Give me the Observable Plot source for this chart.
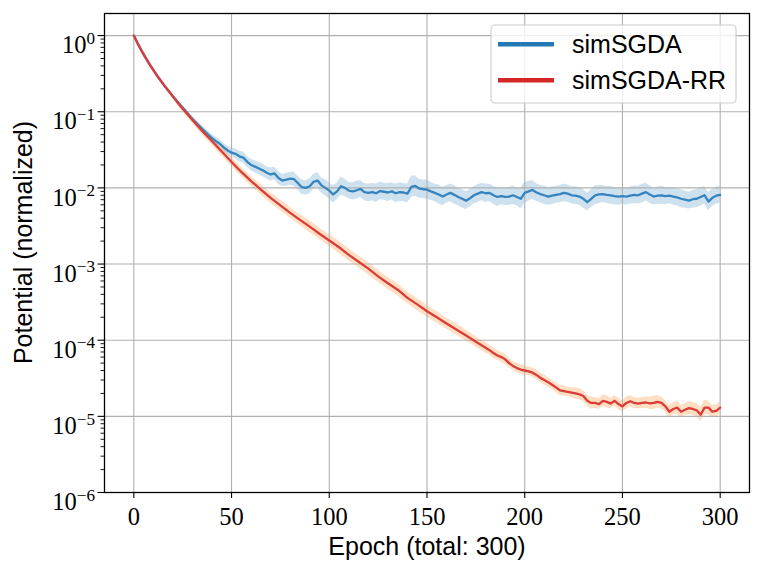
<!DOCTYPE html>
<html>
<head>
<meta charset="utf-8">
<script src="https://cdn.jsdelivr.net/npm/d3@7"></script>
<script src="https://cdn.jsdelivr.net/npm/@observablehq/plot@0.6"></script>
<style>
  html, body { margin: 0; padding: 0; background: #fff; }
  #chart { position: relative; width: 762px; height: 573px; }
</style>
</head>
<body>
<div id="chart"></div>
<script>
// ---- data ----
const seriesNames = ["simSGDA", "simSGDA-RR"];
const xTicks = [0, 50, 100, 150, 200, 250, 300];
const yTicks = [1e-6, 1e-5, 1e-4, 1e-3, 1e-2, 1e-1, 1e0];
const yTickExponents = ["−6", "−5", "−4", "−3", "−2", "−1", "0"];

// simSGDA: epochs 0..300 every 2
const blueEpoch = d3.range(0, 301, 2);
const blueValue = [
  1.0, 0.785, 0.631, 0.513, 0.422, 0.351, 0.295, 0.251, 0.214, 0.185,
  0.160, 0.139, 0.121, 0.106, 0.092, 0.080, 0.071, 0.063, 0.056, 0.050,
  0.045, 0.041, 0.038, 0.034, 0.031, 0.029, 0.028, 0.026, 0.025, 0.022,
  0.020, 0.019, 0.018, 0.017, 0.0158, 0.0150, 0.0155, 0.0135, 0.0125, 0.0128,
  0.0132, 0.0130, 0.0115, 0.0102, 0.0100, 0.0105, 0.0120, 0.0125, 0.0108, 0.0100,
  0.0092, 0.0082, 0.0090, 0.0105, 0.0100, 0.0092, 0.0090, 0.0093, 0.0097, 0.0088,
  0.0086, 0.0088, 0.0085, 0.0091, 0.0089, 0.0087, 0.0090, 0.0085, 0.0088, 0.0087,
  0.0084, 0.0103, 0.0106, 0.0098, 0.0096, 0.0095, 0.0090, 0.0086, 0.0082, 0.0077,
  0.0082, 0.0086, 0.0081, 0.0076, 0.0072, 0.0068, 0.0073, 0.0080, 0.0084, 0.0088,
  0.0085, 0.0086, 0.0080, 0.0076, 0.0078, 0.0076, 0.0077, 0.0080, 0.0076, 0.0072,
  0.0086, 0.0090, 0.0094, 0.0087, 0.0083, 0.0080, 0.0077, 0.0079, 0.0081, 0.0083,
  0.0086, 0.0084, 0.0080, 0.0079, 0.0077, 0.0072, 0.0065, 0.0072, 0.0080, 0.0082,
  0.0083, 0.0081, 0.0080, 0.0078, 0.0077, 0.0078, 0.0077, 0.0079, 0.0081, 0.0080,
  0.0084, 0.0088, 0.0082, 0.0077, 0.0079, 0.0080, 0.0078, 0.0079, 0.0077, 0.0075,
  0.0072, 0.0070, 0.0068, 0.0071, 0.0072, 0.0076, 0.0080, 0.0066, 0.0074, 0.0079,
  0.0081
];
// multiplicative half-width of the shaded band
const blueSpread = [
  1.0, 1.0, 1.01, 1.01, 1.01, 1.02, 1.02, 1.02, 1.03, 1.03,
  1.04, 1.04, 1.05, 1.06, 1.07, 1.08, 1.09, 1.10, 1.11, 1.12,
  1.12, 1.13, 1.13, 1.14, 1.14, 1.15, 1.16, 1.17, 1.18, 1.18,
  1.19, 1.2, 1.2, 1.21, 1.2, 1.22, 1.21, 1.22, 1.2, 1.22,
  1.22, 1.24, 1.23, 1.25, 1.24, 1.26, 1.25, 1.27, 1.26, 1.28,
  1.28, 1.3, 1.29, 1.32, 1.3, 1.28, 1.3, 1.31, 1.29, 1.3,
  1.31, 1.3, 1.32, 1.3, 1.29, 1.31, 1.3, 1.32, 1.33, 1.31,
  1.33, 1.38, 1.36, 1.33, 1.32, 1.34, 1.31, 1.3, 1.33, 1.32,
  1.3, 1.31, 1.33, 1.3, 1.32, 1.31, 1.3, 1.29, 1.31, 1.3,
  1.32, 1.3, 1.31, 1.33, 1.3, 1.29, 1.31, 1.32, 1.3, 1.36,
  1.38, 1.35, 1.33, 1.31, 1.3, 1.32, 1.3, 1.31, 1.29, 1.3,
  1.31, 1.3, 1.29, 1.31, 1.3, 1.32, 1.31, 1.3, 1.33, 1.31,
  1.3, 1.29, 1.31, 1.3, 1.3, 1.28, 1.3, 1.29, 1.31, 1.3,
  1.33, 1.31, 1.3, 1.29, 1.3, 1.31, 1.3, 1.28, 1.29, 1.3,
  1.31, 1.3, 1.29, 1.3, 1.31, 1.32, 1.3, 1.31, 1.3, 1.29,
  1.3
];

// simSGDA-RR
const redEpoch = [
  0, 2, 4, 6, 8, 10, 12, 14, 16, 18, 20, 22, 24, 26, 28, 30,
  35, 40, 45, 50, 55, 60, 65, 70, 75, 80, 85, 90, 95, 100,
  105, 110, 115, 120, 125, 130, 135, 140, 145, 150, 155, 160, 165, 170, 175, 180,
  182, 184, 186, 188, 190, 192, 194, 196, 198, 200,
  202, 204, 206, 208, 210, 212, 214, 216, 218, 220,
  222, 224, 226, 228, 230, 232, 234, 236, 238, 240,
  242, 244, 246, 248, 250, 252, 254, 256, 258, 260,
  262, 264, 266, 268, 270, 272, 274, 276, 278, 280,
  282, 284, 286, 288, 290, 292, 294, 296, 298, 300
];
const redValue = [
  1.0, 0.785, 0.631, 0.513, 0.422, 0.351, 0.295, 0.251, 0.214, 0.184, 0.158, 0.136, 0.117, 0.102, 0.089, 0.078,
  0.056, 0.041, 0.030, 0.0219, 0.0162, 0.0123, 0.0095, 0.0074, 0.0059, 0.0047, 0.0038, 0.0031, 0.0025, 0.00204,
  0.00166, 0.00132, 0.00107, 0.00087, 0.00069, 0.00056, 0.00046, 0.00036, 0.000295, 0.00024, 0.0002, 0.000166, 0.000138, 0.000115, 0.0000955, 0.0000794,
  7.4e-5, 6.8e-5, 6.3e-5, 6.0e-5, 5.6e-5, 5.0e-5, 4.6e-5, 4.3e-5, 4.1e-5, 4.0e-5,
  3.9e-5, 3.75e-5, 3.5e-5, 3.2e-5, 3.0e-5, 2.8e-5, 2.6e-5, 2.4e-5, 2.2e-5, 2.15e-5,
  2.1e-5, 2.05e-5, 2.0e-5, 1.95e-5, 1.85e-5, 1.6e-5, 1.5e-5, 1.5e-5, 1.45e-5, 1.6e-5,
  1.55e-5, 1.47e-5, 1.6e-5, 1.45e-5, 1.35e-5, 1.5e-5, 1.58e-5, 1.5e-5, 1.47e-5, 1.5e-5,
  1.52e-5, 1.48e-5, 1.5e-5, 1.55e-5, 1.5e-5, 1.35e-5, 1.15e-5, 1.25e-5, 1.3e-5, 1.15e-5,
  1.22e-5, 1.28e-5, 1.25e-5, 1.2e-5, 1.05e-5, 1.3e-5, 1.3e-5, 1.15e-5, 1.18e-5, 1.3e-5
];
const redSpread = [
  1.0, 1.0, 1.01, 1.01, 1.02, 1.02, 1.03, 1.04, 1.05, 1.06, 1.07, 1.08, 1.09, 1.1, 1.1, 1.11,
  1.12, 1.13, 1.14, 1.15, 1.15, 1.16, 1.17, 1.17, 1.18, 1.18, 1.18, 1.19, 1.19, 1.19,
  1.2, 1.2, 1.2, 1.2, 1.19, 1.2, 1.2, 1.19, 1.2, 1.2, 1.19, 1.18, 1.19, 1.18, 1.17, 1.18,
  1.16, 1.17, 1.15, 1.16, 1.17, 1.15, 1.14, 1.15, 1.16, 1.15,
  1.14, 1.15, 1.16, 1.15, 1.17, 1.16, 1.15, 1.16, 1.17, 1.16,
  1.15, 1.16, 1.18, 1.19, 1.18, 1.17, 1.2, 1.18, 1.17, 1.19,
  1.2, 1.18, 1.17, 1.19, 1.18, 1.2, 1.19, 1.18, 1.17, 1.18,
  1.19, 1.2, 1.22, 1.21, 1.2, 1.19, 1.21, 1.2, 1.22, 1.21,
  1.2, 1.22, 1.21, 1.23, 1.24, 1.25, 1.22, 1.21, 1.2, 1.2
];

const colors = {
  blueLine: "#3584bf", blueBand: "#1f77b4",
  redLine: "#dc3c38", redBand: "#ff7f0e",
  blueLegend: "#2378b5", redLegend: "#d62728"
};

// ---- build tables ----
const blue = blueEpoch.map((e, i) => ({epoch: e, v: blueValue[i], lo: blueValue[i] / blueSpread[i], hi: blueValue[i] * blueSpread[i]}));
const red = redEpoch.map((e, i) => ({epoch: e, v: redValue[i], lo: redValue[i] / redSpread[i], hi: redValue[i] * redSpread[i]}));

const minorTicks = [];
for (let k = -6; k <= 0; k++) for (let m = 2; m <= 9; m++) {
  const t = m * Math.pow(10, k);
  if (t < 1.95) minorTicks.push(t);
}

const serif = "'Liberation Serif', 'DejaVu Serif', serif";
const sans = "'Liberation Sans', Arial, sans-serif";

const plot = Plot.plot({
  width: 762,
  height: 573,
  marginLeft: 104,
  marginRight: 13,
  marginTop: 13,
  marginBottom: 81,
  style: {background: "white", overflow: "visible"},
  x: {domain: [-15, 315], label: null},
  y: {type: "log", domain: [1e-6, 1.95], label: null},
  marks: [
    Plot.areaY(blue, {x: "epoch", y1: "lo", y2: "hi", fill: colors.blueBand, fillOpacity: 0.22}),
    Plot.areaY(red, {x: "epoch", y1: "lo", y2: "hi", fill: colors.redBand, fillOpacity: 0.25}),
    Plot.gridX(xTicks, {stroke: "#b0b0b0", strokeOpacity: 1, strokeWidth: 1.1}),
    Plot.gridY(yTicks, {stroke: "#b0b0b0", strokeOpacity: 1, strokeWidth: 1.1}),
    Plot.line(blue, {x: "epoch", y: "v", stroke: colors.blueLine, strokeWidth: 2.3}),
    Plot.line(red, {x: "epoch", y: "v", stroke: colors.redLine, strokeWidth: 2.3}),
    Plot.frame({stroke: "black", strokeWidth: 1.3}),
    Plot.axisX(xTicks, {tickSize: 6, tickPadding: 9, fontSize: 24.5, fontFamily: serif, stroke: "black", strokeWidth: 1.1, fill: "black", label: null}),
    Plot.axisY(minorTicks, {tickSize: 3.5, tickFormat: () => "", stroke: "black", strokeWidth: 0.9, label: null}),
    Plot.axisY(yTicks, {tickSize: 6.5, tickPadding: 3, fontSize: 24.5, fontFamily: serif, stroke: "black", strokeWidth: 1.1, fill: "black",
      tickFormat: (d) => yTickExponents[yTicks.indexOf(d)], label: null}),
    Plot.text(["Epoch (total: 300)"], {frameAnchor: "bottom", textAnchor: "middle", lineAnchor: "top", dy: 45, fontSize: 25, fontFamily: sans, fill: "black"}),
    Plot.text(["Potential (normalized)"], {frameAnchor: "left", textAnchor: "middle", lineAnchor: "bottom", rotate: -90, dx: -73, dy: -10.5, fontSize: 25, fontFamily: sans, fill: "black"})
  ]
});

// superscript exponents on y tick labels
d3.select(plot).selectAll('g[aria-label="y-axis tick label"] text').each(function() {
  const exp = this.textContent;
  if (!exp) return;
  const t = d3.select(this);
  t.text("10").attr("dy", "0.40em");
  t.append("tspan").attr("dy", "-0.55em").attr("font-size", "0.7em").text(exp);
});

// legend (inside the svg, top right)
const svg = d3.select(plot);
const lg = svg.append("g").attr("class", "legend").attr("text-anchor", "start");
lg.append("rect").attr("x", 491).attr("y", 25).attr("width", 245).attr("height", 78)
  .attr("rx", 4).attr("fill", "white").attr("fill-opacity", 0.8).attr("stroke", "#cccccc").attr("stroke-width", 1.1);
const entries = [
  {name: seriesNames[0], color: colors.blueLegend, y: 44.3},
  {name: seriesNames[1], color: colors.redLegend, y: 80.3}
];
entries.forEach(e => {
  lg.append("line").attr("x1", 498).attr("x2", 554).attr("y1", e.y).attr("y2", e.y)
    .attr("stroke", e.color).attr("stroke-width", 4.5);
  lg.append("text").attr("x", 572).attr("y", e.y + 9).attr("text-anchor", "start")
    .attr("font-family", sans).attr("font-size", 25).attr("fill", "black").text(e.name);
});

document.getElementById("chart").appendChild(plot);
</script>
</body>
</html>
